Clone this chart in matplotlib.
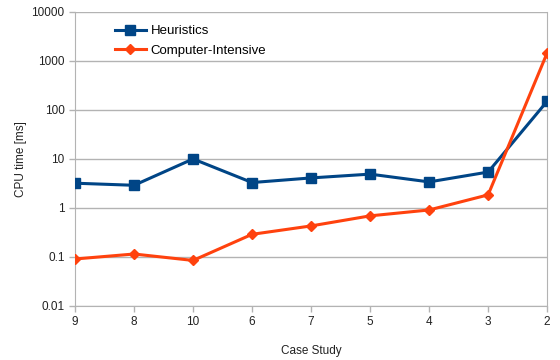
import matplotlib.pyplot as plt
from matplotlib.ticker import FixedLocator, FuncFormatter, NullLocator

plt.rcParams['font.family'] = ['Liberation Sans', 'DejaVu Sans']

cases = ['9', '8', '10', '6', '7', '5', '4', '3', '2']
heuristics = [3.2, 2.9, 10, 3.3, 4.1, 4.9, 3.4, 5.4, 150]
intensive = [0.091, 0.115, 0.085, 0.29, 0.43, 0.69, 0.91, 1.85, 1450]

fig = plt.figure(figsize=(5.6, 3.6), dpi=100)
ax = fig.add_axes([0.134, 0.15, 0.843, 0.817])

x = list(range(len(cases)))
ax.plot(x, heuristics, color='#004586', linewidth=2.2, marker='s', markersize=7,
        label='Heuristics', zorder=3)
ax.plot(x, intensive, color='#ff420e', linewidth=2.2, marker='D', markersize=5,
        label='Computer-Intensive', zorder=3)

ax.set_yscale('log')
ax.set_ylim(0.01, 10000)
ax.set_xlim(0, len(cases) - 1)
ax.yaxis.set_major_locator(FixedLocator([0.01, 0.1, 1, 10, 100, 1000, 10000]))
ax.yaxis.set_minor_locator(NullLocator())
ax.yaxis.set_major_formatter(FuncFormatter(lambda v, p: f'{v:g}'))
ax.set_xticks(x)
ax.set_xticklabels(cases)

ax.grid(axis='y', color='#b3b3b3', linewidth=1)
ax.set_axisbelow(True)
for s in ['left', 'bottom', 'right']:
    ax.spines[s].set_color('#b3b3b3')
ax.spines['top'].set_visible(False)
ax.tick_params(axis='both', colors='#b3b3b3', labelcolor='#222222', labelsize=8.5,
               length=4, width=1)

ax.set_xlabel('Case Study', fontsize=8.5, color='#222222', labelpad=12)
ax.set_ylabel('CPU time [ms]', fontsize=8.5, color='#222222', labelpad=3)

ax.legend(loc='upper left', bbox_to_anchor=(0.06, 0.995), frameon=False, fontsize=9.5,
          handlelength=2.3, handletextpad=0.4, labelspacing=0.55)

fig.savefig('out.png', dpi=100)
